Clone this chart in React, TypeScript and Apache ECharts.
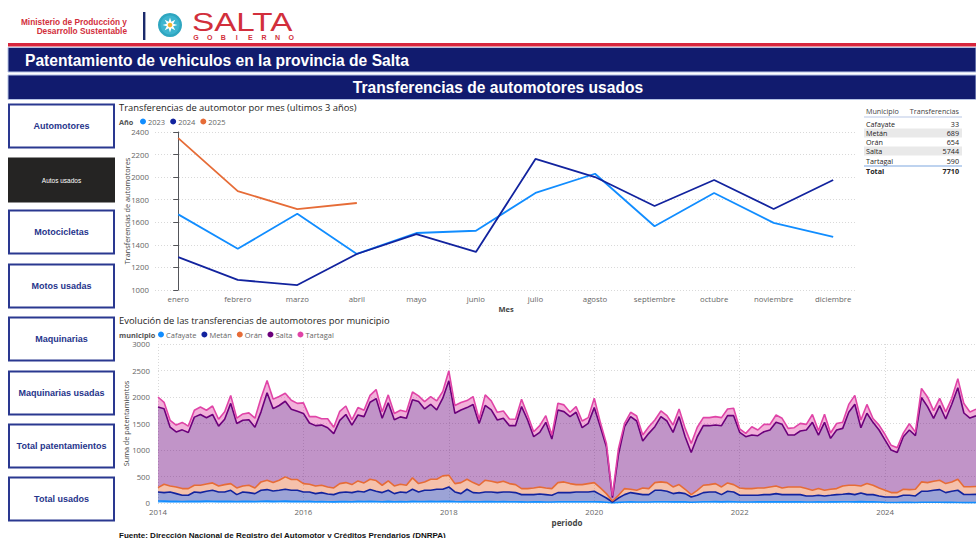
import React, { useEffect, useRef } from "react";
import * as echarts from "echarts";

// ---------- Data ----------
const months = ["enero", "febrero", "marzo", "abril", "mayo", "junio", "julio", "agosto", "septiembre", "octubre", "noviembre", "diciembre"];
const yearNames = ["2023", "2024", "2025"];
const y2023 = [1670, 1365, 1675, 1320, 1505, 1525, 1860, 2030, 1565, 1860, 1595, 1470];
const y2024 = [1292, 1089, 1044, 1319, 1496, 1337, 2161, 2001, 1744, 1975, 1718, 1975];
const y2025 = [2346, 1876, 1717, 1771];

const municipios = ["Cafayate", "Metán", "Orán", "Salta", "Tartagal"];
const firstYear = 2014;
const cafayate = [
  38, 35, 30, 32, 28, 30, 32, 30, 35, 33, 30, 32,
  30, 28, 32, 30, 27, 33, 35, 30, 32, 35, 30, 30,
  28, 30, 25, 27, 25, 22, 26, 28, 25, 30, 28, 30,
  28, 25, 30, 25, 27, 25, 30, 27, 28, 30, 28, 30,
  32, 27, 25, 28, 25, 25, 27, 26, 25, 27, 25, 24,
  22, 20, 22, 23, 20, 20, 24, 25, 23, 25, 24, 24,
  25, 22, 15, 3, 12, 20, 22, 20, 20, 20, 25, 24,
  25, 22, 24, 22, 15, 20, 24, 25, 26, 22, 26, 25,
  20, 20, 20, 22, 22, 22, 24, 22, 22, 22, 22, 20,
  20, 22, 20, 22, 22, 24, 25, 22, 26, 22, 22, 20,
  12, 10, 10, 12, 12, 10, 15, 14, 14, 15, 12, 12,
  10, 8, 7, 8,
];
const metan = [
  170, 161, 178, 145, 117, 115, 176, 166, 186, 207, 178, 176,
  210, 130, 176, 166, 150, 207, 218, 197, 208, 224, 210, 210,
  180, 178, 152, 169, 145, 136, 170, 180, 171, 191, 180, 223,
  193, 171, 210, 152, 181, 171, 229, 181, 212, 210, 231, 229,
  271, 181, 152, 231, 171, 164, 181, 182, 171, 181, 183, 172,
  136, 138, 136, 147, 138, 125, 172, 171, 173, 183, 184, 184,
  196, 136, 80, 16, 83, 138, 174, 157, 138, 138, 215, 216,
  196, 155, 172, 155, 99, 125, 172, 183, 182, 136, 195, 183,
  125, 125, 125, 123, 136, 136, 153, 136, 136, 136, 136, 113,
  113, 123, 113, 123, 136, 140, 152, 136, 163, 136, 136, 113,
  102, 104, 104, 133, 133, 123, 206, 207, 226, 238, 184, 209,
  230, 152, 153, 154,
];
const oran = [
  82, 158, 114, 126, 127, 127, 127, 139, 139, 139, 114, 139,
  126, 126, 114, 139, 107, 158, 177, 158, 190, 234, 202, 202,
  158, 146, 145, 139, 133, 126, 170, 177, 151, 196, 171, 195,
  202, 139, 177, 145, 146, 139, 215, 158, 158, 208, 189, 253,
  221, 158, 208, 189, 189, 146, 222, 202, 189, 202, 158, 151,
  114, 114, 126, 133, 126, 127, 189, 202, 170, 139, 139, 158,
  164, 126, 82, 19, 50, 114, 63, 63, 126, 114, 145, 158,
  164, 126, 151, 82, 44, 95, 139, 139, 158, 145, 158, 139,
  139, 127, 127, 139, 126, 145, 145, 126, 145, 145, 145, 139,
  107, 127, 107, 114, 114, 158, 158, 177, 133, 208, 177, 151,
  126, 82, 82, 114, 108, 126, 177, 164, 170, 177, 170, 177,
  210, 148, 148, 148,
];
const salta = [
  1520, 1426, 1108, 1037, 1108, 1058, 1285, 1335, 1250, 1291, 1128, 1233,
  1514, 1216, 1238, 1235, 1146, 1322, 1650, 1395, 1410, 1427, 1328, 1288,
  1324, 1156, 1138, 1135, 1117, 1026, 1194, 1285, 1123, 1243, 1251, 1452,
  1547, 1265, 1473, 1248, 1271, 1265, 1476, 1548, 1377, 1415, 1308, 1465,
  1781, 1327, 1371, 1352, 1475, 1165, 1410, 1346, 1181, 1188, 1093, 1112,
  1547, 1294, 967, 1030, 1238, 934, 1371, 1326, 1264, 1365, 1074, 1137,
  1415, 1156, 884, 63, 771, 1168, 1371, 1307, 884, 1042, 1055, 1232,
  1162, 1030, 1283, 992, 796, 1010, 1124, 1112, 1106, 1156, 1269, 1301,
  1049, 979, 1010, 986, 1061, 1074, 1200, 1200, 979, 979, 1055, 1105,
  1282, 1010, 1282, 960, 1105, 1086, 1377, 1528, 1099, 1327, 1187, 1093,
  947, 802, 758, 992, 1124, 1011, 1592, 1434, 1188, 1408, 1219, 1465,
  1725, 1390, 1295, 1334,
];
const tartagal = [
  190, 120, 130, 130, 140, 120, 130, 140, 140, 160, 130, 140,
  150, 100, 120, 130, 170, 260, 230, 180, 170, 150, 170, 150,
  200, 120, 170, 120, 170, 120, 170, 160, 100, 140, 120, 130,
  170, 120, 150, 120, 125, 120, 145, 107, 139, 145, 170, 126,
  190, 145, 139, 133, 148, 80, 200, 170, 146, 139, 126, 120,
  139, 95, 94, 126, 126, 76, 126, 127, 82, 107, 126, 108,
  177, 82, 63, 39, 113, 63, 82, 95, 114, 126, 126, 107,
  101, 139, 145, 157, 170, 180, 152, 152, 158, 152, 127, 139,
  67, 63, 158, 107, 139, 107, 139, 114, 126, 139, 145, 107,
  148, 83, 153, 101, 123, 117, 148, 167, 144, 167, 73, 93,
  105, 91, 90, 68, 119, 67, 171, 182, 146, 137, 133, 112,
  171, 178, 114, 127,
];

const tableNames = ["Cafayate", "Metán", "Orán", "Salta", "Tartagal"];
const tableValues = [33, 689, 654, 5744, 590];
const tableTotal = 7710;

const buttonLabels = ["Automotores", "Autos usados", "Motocicletas", "Motos usadas", "Maquinarias", "Maquinarias usadas", "Total patentamientos", "Total usados"];
const activeButton = 1;

// ---------- Styles ----------
const FONT = '"Open Sans", "Noto Sans", sans-serif';
const ARIAL = '"Liberation Sans", Arial, sans-serif';
const NAVY = "#111b6e";
const RED = "#d22f3c";
const yearColors = ["#118DFF", "#12239E", "#E66C37"];
const muniColors = ["#118DFF", "#12239E", "#E66C37", "#6B007B", "#E044A7"];
const AXIS_GREY = "#666666";
const TEXT_DARK = "#252423";

function txt(x: number, y: number, text: string, o: any = {}) {
  return {
    type: "text",
    x,
    y,
    silent: true,
    scaleX: o.scaleX ?? 1,
    style: {
      text,
      fill: o.fill ?? TEXT_DARK,
      fontSize: o.size ?? 8,
      fontWeight: o.weight ?? "normal",
      fontFamily: o.family ?? FONT,
      align: o.align ?? "left",
      verticalAlign: o.valign ?? "middle",
    },
  };
}

function buildGraphic() {
  const g: any[] = [];
  // header
  g.push(txt(127, 22, "Ministerio de Producción y", { fill: RED, size: 8.3, weight: "bold", align: "right", family: ARIAL }));
  g.push(txt(127, 30.5, "Desarrollo Sustentable", { fill: RED, size: 8.3, weight: "bold", align: "right", family: ARIAL }));
  g.push({ type: "rect", shape: { x: 143, y: 12, width: 2.4, height: 28 }, style: { fill: "#1b2a6b" } });
  g.push({ type: "circle", shape: { cx: 170, cy: 25, r: 12 }, style: { fill: "#2fa6c0" } });
  g.push({ type: "circle", shape: { cx: 170, cy: 25, r: 9.5 }, style: { fill: "#3db5cf" } });
  const pts: number[][] = [];
  for (let k = 0; k < 16; k++) {
    const a = (Math.PI * 2 * k) / 16 - Math.PI / 2;
    const r = k % 2 === 0 ? 7.5 : 3.4;
    pts.push([170 + r * Math.cos(a), 25 + r * Math.sin(a)]);
  }
  g.push({ type: "polygon", shape: { points: pts }, style: { fill: "#ffffff" } });
  g.push({ type: "circle", shape: { cx: 170, cy: 25, r: 2.3 }, style: { fill: "#f2b531" } });
  g.push(txt(192, 22, "SALTA", { fill: RED, size: 25, family: ARIAL, scaleX: 1.33 }));
  "GOBIERNO".split("").forEach((ch, k) => {
    g.push(txt(196 + k * 13.6, 37, ch, { fill: RED, size: 7, weight: "bold", align: "center", family: ARIAL }));
  });
  g.push({ type: "rect", shape: { x: 8, y: 43, width: 968, height: 3.5 }, style: { fill: "#d7263d" } });
  // title bars
  g.push({ type: "rect", shape: { x: 8, y: 47.5, width: 968, height: 24.5 }, style: { fill: NAVY, stroke: "#b4c2e4", lineWidth: 1 } });
  g.push(txt(25, 60, "Patentamiento de vehiculos en la provincia de Salta", { fill: "#ffffff", size: 15.6, weight: "bold", family: ARIAL }));
  g.push({ type: "rect", shape: { x: 8, y: 75, width: 968, height: 24.5 }, style: { fill: NAVY, stroke: "#b4c2e4", lineWidth: 1 } });
  g.push(txt(498, 87.5, "Transferencias de automotores usados", { fill: "#ffffff", size: 15.6, weight: "bold", family: ARIAL, align: "center" }));
  // buttons
  const centers = [126, 180, 232, 286, 339, 393, 446, 499];
  buttonLabels.forEach((label, k) => {
    const active = k === activeButton;
    g.push({
      type: "rect",
      shape: { x: 9, y: centers[k] - 21.5, width: 105, height: 43 },
      style: { fill: active ? "#252423" : "#ffffff", stroke: active ? "#252423" : "#2a3890", lineWidth: 2 },
    });
    g.push(txt(61.5, centers[k], label, {
      fill: active ? "#ffffff" : "#26348b",
      size: active ? 6.5 : 9,
      weight: active ? "normal" : "bold",
      align: "center",
      family: ARIAL,
    }));
  });
  // legends prefixes
  g.push(txt(119, 121.5, "Año", { size: 7.3, weight: "bold", fill: "#555" }));
  g.push(txt(119, 334.5, "municipio", { size: 7.3, weight: "bold", fill: "#555" }));
  // table
  g.push(txt(866, 111, "Municipio", { size: 7.2, fill: "#444" }));
  g.push(txt(959, 111, "Transferencias", { size: 7.2, fill: "#444", align: "right" }));
  g.push({ type: "rect", shape: { x: 864, y: 116.5, width: 98, height: 1 }, style: { fill: "#b9c7e6" } });
  const rowY = [124, 133, 142, 151, 160.5];
  tableNames.forEach((n, k) => {
    if (k % 2 === 1) g.push({ type: "rect", shape: { x: 864, y: rowY[k] - 4.5, width: 98, height: 9 }, style: { fill: "#e9e9e9" } });
    g.push(txt(866, rowY[k], n, { size: 7.2 }));
    g.push(txt(959, rowY[k], String(tableValues[k]), { size: 7.2, align: "right" }));
  });
  g.push({ type: "rect", shape: { x: 864, y: 165.5, width: 98, height: 1 }, style: { fill: "#7fa8e0" } });
  g.push(txt(866, 170.5, "Total", { size: 7.2, weight: "bold" }));
  g.push(txt(959, 170.5, String(tableTotal), { size: 7.2, weight: "bold", align: "right" }));
  // footer
  g.push(txt(119, 535, "Fuente: Dirección Nacional de Registro del Automotor y Créditos Prendarios (DNRPA)", { size: 8, weight: "bold", fill: "#111", family: ARIAL }));
  return g;
}

function buildOption() {
  const periods = cafayate.map((_, i) => `${firstYear + Math.floor(i / 12)}-${String((i % 12) + 1).padStart(2, "0")}`);
  const topSeries = [y2023, y2024, y2025].map((arr, k) => ({
    name: yearNames[k],
    type: "line",
    xAxisIndex: 0,
    yAxisIndex: 0,
    data: arr.map((v, i) => [i, v]),
    showSymbol: false,
    lineStyle: { width: 1.8, color: yearColors[k] },
    itemStyle: { color: yearColors[k] },
    z: 3 + k,
  }));
  const muniData = [cafayate, metan, oran, salta, tartagal];
  const bottomSeries = muniData.map((arr, k) => ({
    name: municipios[k],
    type: "line",
    xAxisIndex: 1,
    yAxisIndex: 1,
    stack: "total",
    data: arr,
    showSymbol: false,
    lineStyle: { width: 1.6, color: muniColors[k] },
    itemStyle: { color: muniColors[k] },
    areaStyle: { color: muniColors[k], opacity: 0.42 },
  }));
  const yearTick = (idx: number) => idx % 24 === 0;
  const splitDotted = { show: true, lineStyle: { color: "#d9d9d9", type: [1, 2], width: 1 } };
  const plain = (v: number) => String(v);
  return {
    animation: false,
    backgroundColor: "#ffffff",
    textStyle: { fontFamily: FONT },
    title: [
      { text: "Transferencias de automotor por mes (ultimos 3 años)", left: 114, top: 98, textStyle: { fontSize: 9.4, fontWeight: "normal", color: TEXT_DARK, fontFamily: FONT } },
      { text: "Evolución de las transferencias de automotores por municipio", left: 114, top: 311, textStyle: { fontSize: 9.4, fontWeight: "normal", color: TEXT_DARK, fontFamily: FONT } },
    ],
    legend: [
      {
        data: yearNames, left: 140, top: 117.5, icon: "circle", itemWidth: 6, itemHeight: 6, itemGap: 5, padding: 0,
        textStyle: { fontSize: 7.5, color: "#666", padding: [0, 0, 0, -3] },
      },
      {
        data: municipios, left: 158, top: 330.5, icon: "circle", itemWidth: 6, itemHeight: 6, itemGap: 5, padding: 0,
        textStyle: { fontSize: 7.5, color: "#666", padding: [0, 0, 0, -3] },
      },
    ],
    grid: [
      { left: 155, right: 119, top: 132, bottom: 248 },
      { left: 158, right: -2, top: 344, bottom: 35 },
    ],
    xAxis: [
      {
        type: "value", gridIndex: 0, min: -0.39, max: 11.4,
        axisLine: { show: false }, axisTick: { show: false }, splitLine: { show: false },
        axisLabel: { customValues: months.map((_, i) => i), formatter: (v: number) => months[Math.round(v)] ?? "", fontSize: 7.8, color: AXIS_GREY, margin: 5 },
        name: "Mes", nameLocation: "middle", nameGap: 15,
        nameTextStyle: { fontSize: 7.5, fontWeight: "bold", color: "#444" },
      },
      {
        type: "category", gridIndex: 1, data: periods, boundaryGap: false,
        axisLine: { show: false }, axisTick: { show: false },
        axisLabel: { interval: (i: number) => yearTick(i), formatter: (v: string) => v.slice(0, 4), fontSize: 7.8, color: AXIS_GREY, margin: 5 },
        splitLine: { ...splitDotted, interval: (i: number) => yearTick(i) },
        name: "periodo", nameLocation: "middle", nameGap: 15,
        nameTextStyle: { fontSize: 8, fontWeight: "bold", color: "#444" },
      },
    ],
    yAxis: [
      {
        type: "value", gridIndex: 0, min: 1000, max: 2400, interval: 200,
        axisLabel: { fontSize: 7.8, color: AXIS_GREY, margin: 6, formatter: plain },
        splitLine: splitDotted,
        name: "Transferencias de automotores", nameLocation: "middle", nameGap: 25, nameMoveOverlap: false,
        nameTextStyle: { fontSize: 7.3, color: "#444" },
      },
      {
        type: "value", gridIndex: 1, min: 0, max: 3000, interval: 500,
        axisLabel: { fontSize: 7.8, color: AXIS_GREY, margin: 8, formatter: plain },
        splitLine: splitDotted,
        name: "Suma de patentamientos", nameLocation: "middle", nameGap: 29, nameMoveOverlap: false,
        nameTextStyle: { fontSize: 7.3, color: "#444" },
      },
    ],
    series: [...topSeries, ...bottomSeries],
    graphic: buildGraphic(),
  };
}

export default function App() {
  const ref = useRef<HTMLDivElement>(null);
  useEffect(() => {
    if (!ref.current) return;
    const chart = echarts.init(ref.current, undefined, { renderer: "svg" });
    chart.setOption(buildOption() as any);
    return () => chart.dispose();
  }, []);
  return (
    <div style={{ position: "fixed", left: 0, top: 0, width: 976, height: 538, overflow: "hidden", background: "#fff" }}>
      <div ref={ref} style={{ width: 976, height: 538 }} />
    </div>
  );
}
